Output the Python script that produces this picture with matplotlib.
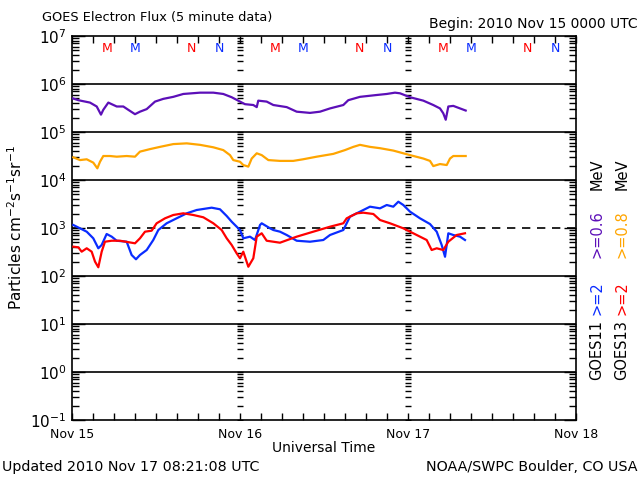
import matplotlib
matplotlib.use("Agg")
import matplotlib.pyplot as plt
from matplotlib.ticker import LogLocator, LogFormatterMathtext, FixedLocator, NullFormatter

# hours since 2010 Nov 15 00:00 UTC
h_p = [0.14, 0.9, 2.57, 3.53, 4.14, 4.47, 5.19, 5.67, 6.39, 7.33, 8.04, 9.0, 9.71, 10.67, 11.86,
       13.04, 14.47, 15.9, 18.29, 20.19, 21.61, 22.81, 24.0, 24.71, 25.9, 26.39, 26.61, 27.81,
       28.76, 30.67, 32.1, 34.0, 35.43, 36.86, 38.76, 39.47, 41.14, 43.53, 44.96, 46.14, 46.86,
       48.29, 50.19, 51.61, 52.57, 53.04, 53.39, 53.76, 54.47, 55.43, 56.24]
goes11_06 = [5.0e5, 4.6e5, 4.1e5, 3.4e5, 2.3e5, 2.9e5, 4.1e5, 3.8e5, 3.4e5, 3.4e5, 2.9e5, 2.35e5,
             2.65e5, 3.0e5, 4.3e5, 4.9e5, 5.4e5, 6.2e5, 6.6e5, 6.6e5, 6.2e5, 5.3e5, 4.3e5, 3.8e5,
             3.65e5, 3.3e5, 4.5e5, 4.3e5, 3.65e5, 3.3e5, 2.65e5, 2.5e5, 2.65e5, 3.1e5, 3.65e5,
             4.6e5, 5.4e5, 5.9e5, 6.2e5, 6.6e5, 6.4e5, 5.3e5, 4.5e5, 3.65e5, 3.1e5, 2.45e5, 1.8e5,
             3.4e5, 3.5e5, 3.1e5, 2.8e5]

h_o = [0.19, 1.14, 2.1, 3.04, 3.62, 4.0, 4.47, 5.43, 6.39, 7.81, 9.0, 9.71, 11.14, 12.57, 14.47,
       16.39, 18.29, 20.19, 21.61, 22.57, 23.04, 24.0, 24.47, 25.19, 25.67, 26.39, 27.1, 28.05,
       29.71, 31.6, 33.0, 34.96, 37.33, 39.0, 40.19, 41.14, 42.57, 44.0, 45.9, 48.29, 50.19,
       51.14, 51.61, 52.57, 53.53, 54.0, 54.47, 56.24]
goes13_08 = [2.97e4, 2.6e4, 2.7e4, 2.3e4, 1.75e4, 2.4e4, 3.16e4, 3.16e4, 3.06e4, 3.16e4, 3.06e4,
             3.9e4, 4.4e4, 4.9e4, 5.6e4, 5.8e4, 5.4e4, 4.8e4, 4.2e4, 3.3e4, 2.6e4, 2.4e4, 2.05e4,
             1.9e4, 2.8e4, 3.6e4, 3.3e4, 2.6e4, 2.5e4, 2.5e4, 2.7e4, 3.06e4, 3.5e4, 4.2e4, 4.9e4,
             5.4e4, 4.9e4, 4.6e4, 4.1e4, 3.3e4, 2.8e4, 2.5e4, 1.95e4, 2.15e4, 2.05e4, 2.8e4,
             3.16e4, 3.16e4]

h_b = [0.19, 1.14, 2.1, 3.04, 3.76, 4.24, 4.95, 5.67, 6.39, 7.81, 8.52, 9.14, 9.71, 10.67, 11.61,
       12.33, 13.52, 14.95, 16.39, 17.81, 19.95, 21.14, 22.1, 22.81, 24.0, 24.47, 25.43, 26.14,
       26.86, 27.1, 28.29, 28.76, 29.71, 30.67, 32.1, 34.0, 35.9, 36.86, 38.76, 39.71, 41.14,
       42.57, 44.0, 44.96, 45.9, 46.62, 47.33, 48.29, 49.71, 51.14, 52.1, 52.81, 53.29, 53.76,
       54.47, 55.43, 56.14]
goes11_2 = [1155, 985, 838, 610, 378, 443, 750, 660, 543, 518, 274, 223, 274, 348, 562, 908, 1253,
            1592, 2023, 2371, 2650, 2455, 1778, 1353, 908, 610, 660, 562, 1155, 1253, 985, 908, 838,
            715, 543, 518, 562, 715, 908, 1722, 2188, 2780, 2570, 3013, 2780, 3530, 3013, 2188,
            1592, 1210, 838, 443, 252, 776, 715, 660, 562]

h_r = [0.19, 0.9, 1.38, 2.1, 2.81, 3.29, 3.76, 4.24, 4.71, 5.67, 6.86, 9.0, 9.71, 10.43, 11.38,
       12.09, 13.29, 14.47, 15.9, 17.33, 18.76, 20.19, 21.38, 22.1, 22.81, 23.52, 24.0, 24.47,
       25.19, 25.9, 26.39, 27.1, 27.81, 29.71, 32.1, 34.47, 36.86, 38.76, 39.24, 40.67, 41.62,
       43.05, 44.0, 45.43, 47.33, 49.24, 50.67, 51.38, 52.1, 53.04, 53.76, 54.95, 56.14]
goes13_2 = [408, 396, 321, 378, 321, 199, 152, 321, 518, 543, 543, 480, 610, 838, 879, 1253, 1592,
            1866, 2023, 1866, 1672, 1253, 908, 610, 443, 297, 234, 321, 156, 234, 660, 776, 543,
            494, 660, 838, 1064, 1253, 1592, 2023, 2084, 1958, 1468, 1253, 985, 715, 562, 348, 378,
            348, 518, 715, 776]

day_labels = ["Nov 15", "Nov 16", "Nov 17", "Nov 18"]
m_hours_13 = [5, 29, 53]
n_hours_13 = [17, 41, 65]
m_hours_11 = [9, 33, 57]
n_hours_11 = [21, 45, 69]

purple = "#5c0fb8"
orange = "#ffa500"
blue = "#0a2cff"
red = "#ff0000"

fig = plt.figure(figsize=(6.4, 4.8), dpi=100)
ax = fig.add_axes([72 / 640, 60 / 480, 504 / 640, 384 / 480])

ax.set_yscale("log")
ax.set_ylim(1e-1, 1e7)
ax.set_xlim(0, 72)

for n in range(0, 7):
    if n == 3:
        ax.axhline(10.0 ** n, color="black", lw=1.2, ls=(0, (5, 4)), zorder=1)
    else:
        ax.axhline(10.0 ** n, color="black", lw=1.2, zorder=1)

# day boundary tick columns
ys = [k * 10.0 ** n for n in range(-1, 7) for k in range(1, 10)]
for d in [24, 48]:
    ax.plot([d] * len(ys), ys, ls="none", marker="_", ms=5, mew=1.0, color="black", zorder=1)

ax.plot(h_p, goes11_06, color=purple, lw=1.6, zorder=3)
ax.plot(h_o, goes13_08, color=orange, lw=1.6, zorder=3)
ax.plot(h_b, goes11_2, color=blue, lw=1.6, zorder=3)
ax.plot(h_r, goes13_2, color=red, lw=1.6, zorder=3)

ym = 10 ** 6.75
for x in m_hours_13:
    ax.text(x, ym, "M", color=red, ha="center", va="center", fontsize=9)
for x in n_hours_13:
    ax.text(x, ym, "N", color=red, ha="center", va="center", fontsize=9)
for x in m_hours_11:
    ax.text(x, ym, "M", color=blue, ha="center", va="center", fontsize=9)
for x in n_hours_11:
    ax.text(x, ym, "N", color=blue, ha="center", va="center", fontsize=9)

ax.yaxis.set_major_locator(LogLocator(base=10, numticks=20))
ax.yaxis.set_major_formatter(LogFormatterMathtext())
ax.yaxis.set_minor_locator(LogLocator(base=10, subs=range(2, 10), numticks=20))
ax.yaxis.set_minor_formatter(NullFormatter())
ax.xaxis.set_major_locator(FixedLocator([0, 24, 48, 72]))
ax.set_xticklabels(day_labels)
ax.xaxis.set_minor_locator(FixedLocator(range(0, 73, 3)))

ax.tick_params(axis="y", which="major", direction="in", length=9, width=1, left=True, right=True,
               labelsize=11, pad=4)
ax.tick_params(axis="y", which="minor", direction="in", length=5, width=1, left=True, right=True)
ax.tick_params(axis="x", which="both", direction="in", length=5, width=1, top=True, bottom=True,
               labelsize=9, pad=6)
for s in ax.spines.values():
    s.set_linewidth(1.2)

ax.set_xlabel("Universal Time", fontsize=10, labelpad=0)
ax.set_ylabel("Particles cm$^{-2}$s$^{-1}$sr$^{-1}$", fontsize=11, labelpad=4)

fig.text(42 / 640, 1 - 18 / 480, "GOES Electron Flux (5 minute data)", fontsize=9.3, ha="left", va="center")
fig.text(638 / 640, 1 - 24 / 480, "Begin: 2010 Nov 15 0000 UTC", fontsize=10, ha="right", va="center")
fig.text(2 / 640, 1 - 467 / 480, "Updated 2010 Nov 17 08:21:08 UTC", fontsize=10.3, ha="left", va="center")
fig.text(638 / 640, 1 - 467 / 480, "NOAA/SWPC Boulder, CO USA", fontsize=10.3, ha="right", va="center")

# right side legend, rotated
col1 = [("GOES11", "black", 380), (">=2", blue, 315), (">=0.6", purple, 258), ("MeV", "black", 190)]
col2 = [("GOES13", "black", 380), (">=2", red, 315), (">=0.8", orange, 258), ("MeV", "black", 190)]
for x, col in [(597, col1), (622, col2)]:
    for txt, c, yb in col:
        fig.text(x / 640, 1 - yb / 480, txt, color=c, rotation=90, fontsize=10.5,
                 ha="center", va="bottom")

fig.savefig("out.png", dpi=100)
